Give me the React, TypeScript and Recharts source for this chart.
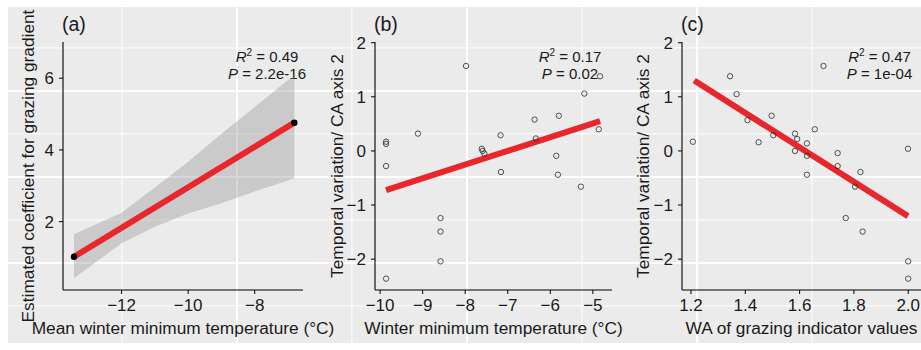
import React from "react";
import {
  ComposedChart,
  Line,
  Scatter,
  Area,
  XAxis,
  YAxis,
  Label,
  Customized,
} from "recharts";

const W = 921;
const H = 350;
const FONT = '"Liberation Sans", Arial, Helvetica, sans-serif';
const RED = "#e8262b";
const INK = "#1a1a1a";

// grey backdrop with white grid (ggplot grey theme behind the figure)
const BG = { left: 7, top: 7, width: 914, height: 336 };
const BG_STEP_X = 115;
const BG_STEP_Y = 43;
const BG_OFFSET_Y = 41;
const BG_MAJOR_W = 2;
const BG_MINOR_W = 1.2;

// (a) coefficient vs mean winter minimum temperature
const A_BAND_X = [-13.43, -12, -11, -10, -9, -8, -7, -6.81];
const A_BAND_LO = [0.42, 1.4, 1.86, 2.23, 2.51, 2.84, 3.15, 3.21];
const A_BAND_HI = [1.65, 2.25, 2.95, 3.67, 4.45, 5.2, 5.95, 6.05];
const A_FIT_X = [-13.43, -6.81];
const A_FIT_Y = [1.02, 4.76];
const A_X_TICKS = [-12, -10, -8];
const A_Y_TICKS = [2, 4, 6];

// (b) temporal variation vs winter minimum temperature
const B_X = [-9.86, -9.86, -9.86, -9.86, -9.11, -7.98, -8.58, -8.58, -8.58, -7.61, -7.59, -7.55,
  -7.17, -7.16, -6.37, -6.34, -5.8, -5.86, -5.82, -5.28, -5.2, -4.83, -4.86];
const B_Y = [0.17, 0.13, -0.28, -2.36, 0.32, 1.57, -1.24, -1.49, -2.04, 0.04, 0.0, -0.05,
  0.29, -0.39, 0.58, 0.23, 0.65, -0.09, -0.44, -0.66, 1.06, 1.38, 0.4];
const B_FIT_X = [-9.86, -4.83];
const B_FIT_Y = [-0.725, 0.55];
const B_X_TICKS = [-10, -9, -8, -7, -6, -5];

// (c) temporal variation vs WA of grazing indicator values
const C_X = [1.207, 1.344, 1.368, 1.408, 1.449, 1.497, 1.503, 1.583, 1.591, 1.583, 1.627, 1.627,
  1.627, 1.656, 1.688, 1.74, 1.74, 1.804, 1.77, 1.824, 1.832, 1.999, 2.0, 2.0];
const C_Y = [0.17, 1.38, 1.05, 0.57, 0.16, 0.65, 0.29, 0.32, 0.22, 0.0, 0.14, -0.09,
  -0.44, 0.4, 1.57, -0.04, -0.28, -0.66, -1.24, -0.39, -1.49, 0.04, -2.04, -2.36];
const C_FIT_X = [1.212, 1.999];
const C_FIT_Y = [1.3, -1.205];
const C_X_TICKS = [1.2, 1.4, 1.6, 1.8, 2.0];

const BC_Y_TICKS = [-2, -1, 0, 1, 2];

const pts = (xs: number[], ys: number[]) => xs.map((x, i) => ({ x, y: ys[i] }));

const minus = (v: number) => String(v).replace("-", "\u2212");
const oneDec = (v: number) => v.toFixed(1);

const tickStyle = { fontSize: 17, fill: INK };
const axisLine = { stroke: "#000", strokeWidth: 1.1 };

function Hollow(p: any) {
  return <circle cx={p.cx} cy={p.cy} r={2.7} fill="none" stroke="#2a2a2a" strokeWidth={0.8} />;
}

function Solid(p: any) {
  return <circle cx={p.cx} cy={p.cy} r={3.2} fill="#000" />;
}

function YTitle({ viewBox, value, gap }: any) {
  const x = viewBox.x + viewBox.width - gap;
  const y = viewBox.y + viewBox.height / 2;
  return (
    <text x={x} y={y} transform={`rotate(-90 ${x} ${y})`} textAnchor="middle" fontSize={17.3} fill={INK}>
      {value}
    </text>
  );
}

function XTitle({ viewBox, value }: any) {
  return (
    <text x={viewBox.x + viewBox.width / 2} y={viewBox.y + 44} textAnchor="middle" fontSize={17.3} fill={INK}>
      {value}
    </text>
  );
}

function Stats({ tag, tagX, cx, r2, p }: any) {
  return (
    <g fill={INK}>
      <text x={tagX} y={31} fontSize={19.5}>{tag}</text>
      <text x={cx} y={61.5} textAnchor="middle" fontSize={15}>
        <tspan fontStyle="italic">R</tspan>
        <tspan fontSize={10} dy={-6}>2</tspan>
        <tspan dy={6}>{" = " + r2}</tspan>
      </text>
      <text x={cx} y={79} textAnchor="middle" fontSize={15}>
        <tspan fontStyle="italic">P</tspan>
        <tspan>{" = " + p}</tspan>
      </text>
    </g>
  );
}

// major and minor white lines, alternating
function backdropStyle(): React.CSSProperties {
  const vx = (w: number) => `linear-gradient(to right, #fff ${w}px, transparent ${w}px)`;
  const hy = (w: number) => `linear-gradient(to bottom, #fff ${w}px, transparent ${w}px)`;
  const sx = BG_STEP_X * 2;
  const sy = BG_STEP_Y * 2;
  return {
    position: "absolute",
    left: BG.left,
    top: BG.top,
    width: BG.width,
    height: BG.height,
    backgroundColor: "#ebebeb",
    backgroundImage: [vx(BG_MAJOR_W), vx(BG_MINOR_W), hy(BG_MAJOR_W), hy(BG_MINOR_W)].join(","),
    backgroundSize: `${sx}px 100%, ${sx}px 100%, 100% ${sy}px, 100% ${sy}px`,
    backgroundPosition: [
      `${sx - BG_MAJOR_W / 2}px 0`,
      `${BG_STEP_X - BG_MINOR_W / 2}px 0`,
      `0 ${BG_OFFSET_Y + BG_STEP_Y - BG_MAJOR_W / 2}px`,
      `0 ${BG_OFFSET_Y - BG_MINOR_W / 2}px`,
    ].join(","),
    backgroundRepeat: "repeat-x, repeat-x, repeat-y, repeat-y",
  };
}

function Panel(props: any) {
  const { left, right, yw, xDomain, yDomain, xTicks, yTicks, xFmt, xTitle, yTitle, gap, stats, children } = props;
  return (
    <div style={{ position: "absolute", left: 0, top: 0 }}>
      <ComposedChart width={W} height={H} margin={{ top: 42, right, bottom: 0, left }}>
        <XAxis
          type="number"
          dataKey="x"
          domain={xDomain}
          ticks={xTicks}
          allowDataOverflow
          height={60}
          axisLine={axisLine}
          tickLine={{ stroke: "#000" }}
          tickSize={4}
          tickMargin={5}
          tick={tickStyle}
          tickFormatter={xFmt}
          interval={0}
        >
          <Label content={(lp: any) => <XTitle viewBox={lp.viewBox} value={xTitle} />} />
        </XAxis>
        <YAxis
          type="number"
          dataKey="y"
          domain={yDomain}
          ticks={yTicks}
          allowDataOverflow
          width={yw}
          axisLine={axisLine}
          tickLine={{ stroke: "#000" }}
          tickSize={4}
          tickMargin={5}
          tick={tickStyle}
          tickFormatter={minus}
          interval={0}
        >
          <Label content={(lp: any) => <YTitle viewBox={lp.viewBox} value={yTitle} gap={gap} />} />
        </YAxis>
        {children}
        <Customized component={() => <Stats {...stats} />} />
      </ComposedChart>
    </div>
  );
}

export default function App() {
  const band = A_BAND_X.map((x, i) => ({ x, band: [A_BAND_LO[i], A_BAND_HI[i]] }));
  return (
    <div
      style={{
        position: "absolute",
        left: 0,
        top: 0,
        width: W,
        height: H,
        background: "#fff",
        fontFamily: FONT,
        overflow: "hidden",
      }}
    >
      <div style={backdropStyle()} />

      <Panel
        left={0}
        right={618}
        yw={63}
        xDomain={[-13.76, -6.55]}
        yDomain={[0.094, 7.01]}
        xTicks={A_X_TICKS}
        yTicks={A_Y_TICKS}
        xFmt={minus}
        xTitle="Mean winter minimum temperature (°C)"
        yTitle="Estimated coefficient for grazing gradient"
        gap={29.5}
        stats={{ tag: "(a)", tagX: 62, cx: 267, r2: "0.49", p: "2.2e-16" }}
      >
        <Area
          data={band}
          dataKey="band"
          type="linear"
          stroke="none"
          fill="#999999"
          fillOpacity={0.4}
          isAnimationActive={false}
        />
        <Scatter data={pts(A_FIT_X, A_FIT_Y)} dataKey="y" shape={Solid} isAnimationActive={false} />
        <Line
          data={pts(A_FIT_X, A_FIT_Y)}
          dataKey="y"
          stroke={RED}
          strokeWidth={6}
          dot={false}
          activeDot={false}
          isAnimationActive={false}
        />
      </Panel>

      <Panel
        left={315}
        right={309}
        yw={60}
        xDomain={[-10.12, -4.55]}
        yDomain={[-2.57, 2.013]}
        xTicks={B_X_TICKS}
        yTicks={BC_Y_TICKS}
        xFmt={minus}
        xTitle="Winter minimum temperature (°C)"
        yTitle="Temporal variation/ CA axis 2"
        gap={32.5}
        stats={{ tag: "(b)", tagX: 374, cx: 570, r2: "0.17", p: "0.02" }}
      >
        <Scatter data={pts(B_X, B_Y)} dataKey="y" shape={Hollow} isAnimationActive={false} />
        <Line
          data={pts(B_FIT_X, B_FIT_Y)}
          dataKey="y"
          stroke={RED}
          strokeWidth={6}
          dot={false}
          activeDot={false}
          isAnimationActive={false}
        />
      </Panel>

      <Panel
        left={622}
        right={0}
        yw={60}
        xDomain={[1.167, 2.047]}
        yDomain={[-2.57, 2.013]}
        xTicks={C_X_TICKS}
        yTicks={BC_Y_TICKS}
        xFmt={oneDec}
        xTitle="WA of grazing indicator values"
        yTitle="Temporal variation/ CA axis 2"
        gap={33}
        stats={{ tag: "(c)", tagX: 681, cx: 879.5, r2: "0.47", p: "1e-04" }}
      >
        <Scatter data={pts(C_X, C_Y)} dataKey="y" shape={Hollow} isAnimationActive={false} />
        <Line
          data={pts(C_FIT_X, C_FIT_Y)}
          dataKey="y"
          stroke={RED}
          strokeWidth={6}
          dot={false}
          activeDot={false}
          isAnimationActive={false}
        />
      </Panel>
    </div>
  );
}
